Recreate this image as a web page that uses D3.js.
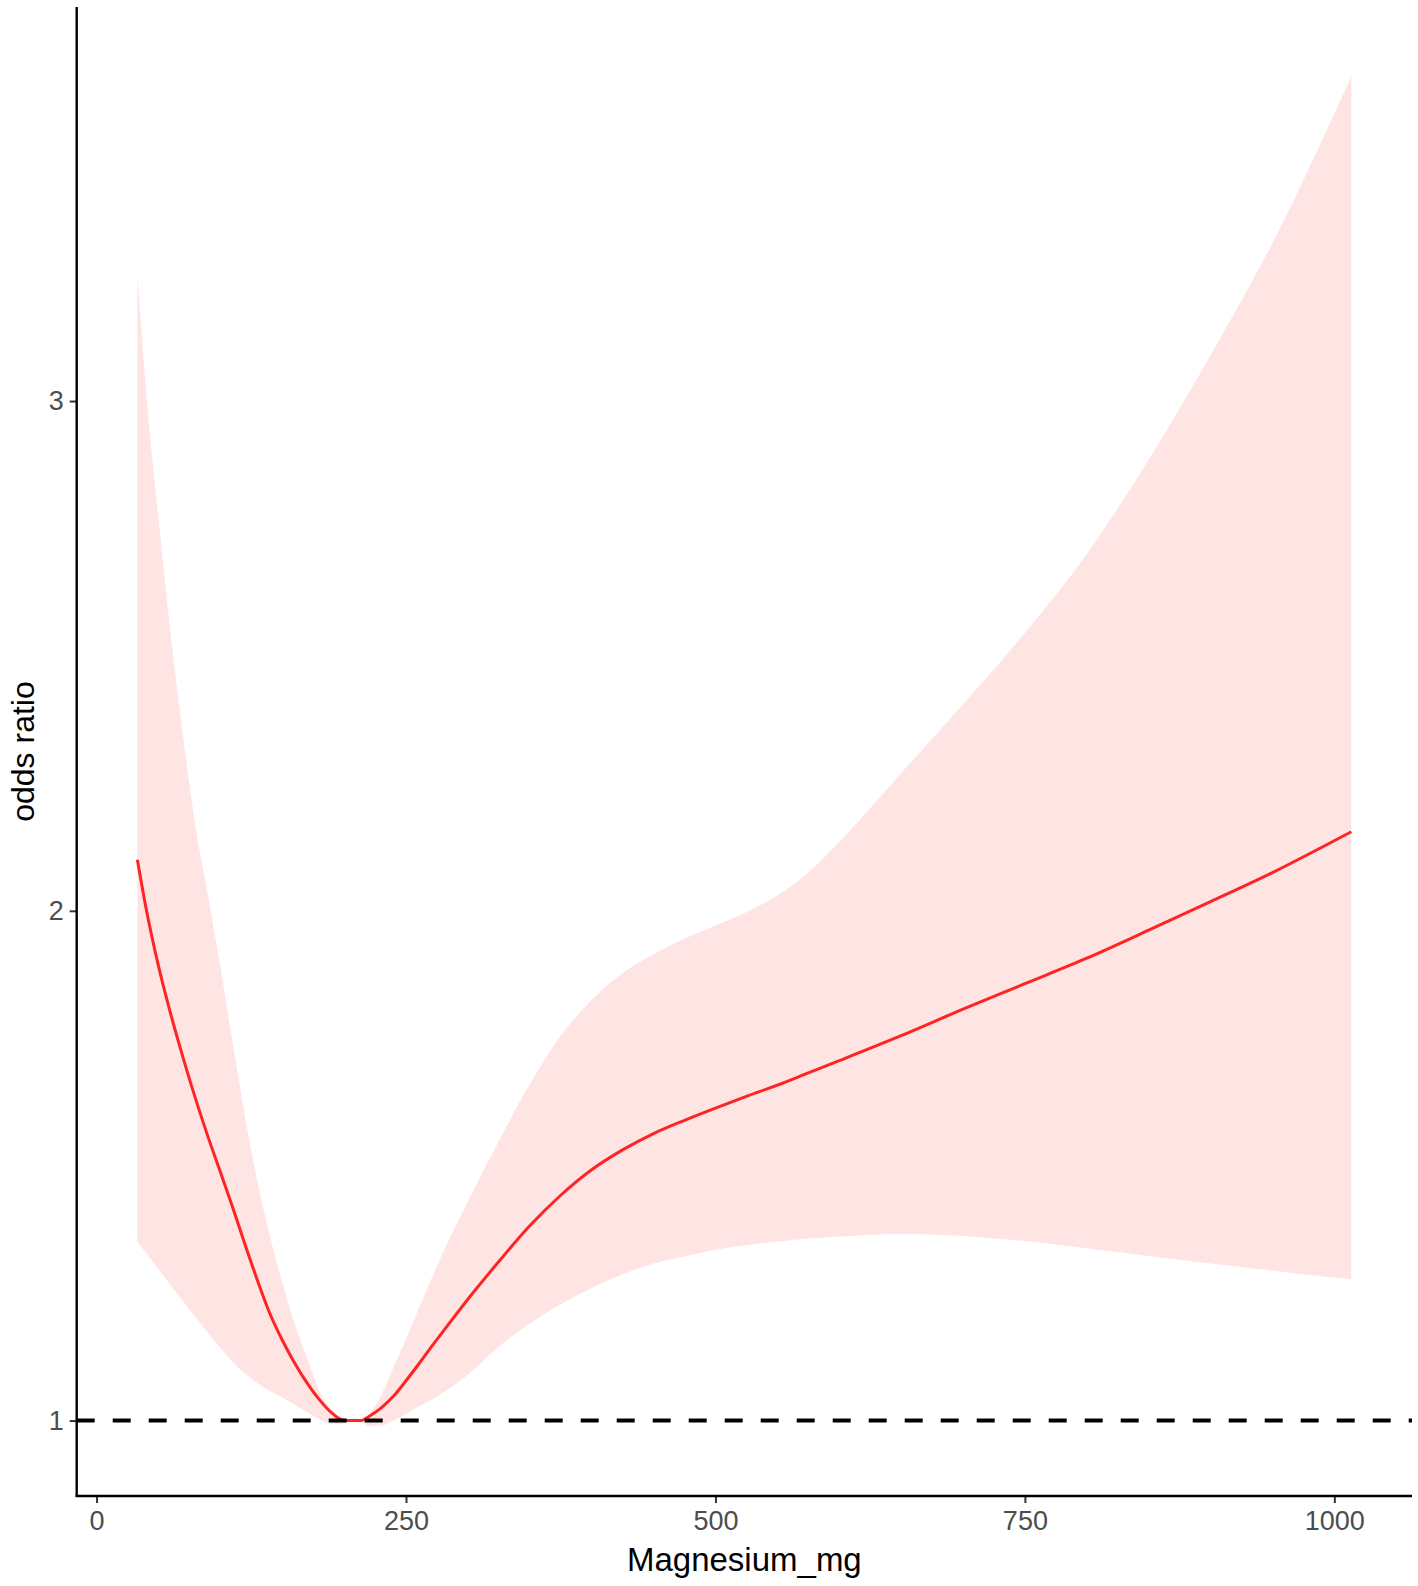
<!DOCTYPE html>
<html>
<head>
<meta charset="utf-8">
<script src="https://cdn.jsdelivr.net/npm/d3@7"></script>
<style>
  html, body { margin: 0; padding: 0; background: #ffffff; }
  svg { display: block; }
  text { font-family: "Liberation Sans", Arial, sans-serif; }
</style>
</head>
<body>
<svg id="chart" width="1418" height="1586"></svg>
<script>
// ---- data ----
const magnesium = [33, 40, 50, 60, 70, 80, 90, 100, 110, 120, 130, 140, 150, 160, 170, 180, 190, 200, 207, 214,
  220, 230, 240, 250, 260, 270, 280, 300, 325, 350, 375, 400, 425, 450, 475, 500, 525, 550, 575, 600,
  650, 700, 750, 800, 850, 900, 950, 1013.7];
const oddsRatio = [2.10, 2.005, 1.892, 1.797, 1.711, 1.631, 1.557, 1.488, 1.418, 1.345, 1.275, 1.21, 1.158, 1.113, 1.074, 1.041, 1.015, 1.0, 1.0, 1.0,
  1.008, 1.025, 1.048, 1.078, 1.11, 1.143, 1.175, 1.238, 1.312, 1.382, 1.442, 1.492, 1.531, 1.563, 1.589, 1.613, 1.636, 1.658, 1.682, 1.706,
  1.755, 1.807, 1.857, 1.907, 1.962, 2.018, 2.075, 2.155];
const upperCI = [3.25, 3.02, 2.77, 2.54, 2.34, 2.165, 2.03, 1.89, 1.74, 1.595, 1.468, 1.362, 1.272, 1.19, 1.123, 1.058, 1.02, 1.003, 1.0, 1.0,
  1.012, 1.05, 1.105, 1.16, 1.218, 1.275, 1.33, 1.43, 1.548, 1.66, 1.755, 1.825, 1.878, 1.915, 1.945, 1.971, 1.997, 2.03, 2.075, 2.135,
  2.27, 2.405, 2.545, 2.70, 2.885, 3.09, 3.31, 3.637];
const lowerCI = [1.351, 1.329, 1.297, 1.265, 1.234, 1.203, 1.172, 1.143, 1.115, 1.092, 1.073, 1.058, 1.045, 1.031, 1.017, 1.003, 0.993, 0.993, 1.0, 0.996,
  0.99, 0.99, 1.0, 1.013, 1.027, 1.04, 1.055, 1.09, 1.145, 1.19, 1.228, 1.26, 1.287, 1.308, 1.322, 1.335, 1.344, 1.351, 1.357, 1.361,
  1.366, 1.362, 1.352, 1.338, 1.323, 1.308, 1.294, 1.277];
const xTicks = [0, 250, 500, 750, 1000];
const yTicks = [1, 2, 3];
const refValue = 1;
const xTitle = "Magnesium_mg";
const yTitle = "odds ratio";

// ---- layout ----
const panel = { left: 76.7, right: 1412, top: 7, bottom: 1496 };

const svg = d3.select("#chart");

const xMin = d3.min(magnesium), xMax = d3.max(magnesium);
const xPad = (xMax - xMin) * 0.05;
const x = d3.scaleLinear().domain([xMin - xPad, xMax + xPad]).range([panel.left, panel.right]);
const y = d3.scaleLinear().domain([0.852, 3.773]).range([panel.bottom, panel.top]);

const rows = magnesium.map((m, i) => ({ m, or: oddsRatio[i], lo: lowerCI[i], hi: upperCI[i] }));

// ribbon
const area = d3.area()
  .x(d => x(d.m))
  .y0(d => y(d.lo))
  .y1(d => y(d.hi))
  .curve(d3.curveMonotoneX);
svg.append("path")
  .datum(rows)
  .attr("d", area)
  .attr("fill", "#FFE4E4");

// fitted line
const line = d3.line()
  .x(d => x(d.m))
  .y(d => y(d.or))
  .curve(d3.curveMonotoneX);
svg.append("path")
  .datum(rows)
  .attr("d", line)
  .attr("fill", "none")
  .attr("stroke", "#FF2424")
  .attr("stroke-width", 3);

// reference line
svg.append("line")
  .attr("x1", panel.left).attr("x2", panel.right)
  .attr("y1", y(refValue)).attr("y2", y(refValue))
  .attr("stroke", "#000")
  .attr("stroke-width", 4)
  .attr("stroke-dasharray", "18,18");

// axes
const xAxis = d3.axisBottom(x).tickValues(xTicks).tickSize(7).tickPadding(8).tickFormat(d3.format("d"));
const yAxis = d3.axisLeft(y).tickValues(yTicks).tickSize(7).tickPadding(6).tickFormat(d3.format("d"));

const gx = svg.append("g").attr("transform", `translate(0,${panel.bottom})`).call(xAxis);
const gy = svg.append("g").attr("transform", `translate(${panel.left},0)`).call(yAxis);

[gx, gy].forEach(g => {
  g.select(".domain").remove();
  g.selectAll(".tick line").attr("stroke", "#333333").attr("stroke-width", 2);
  g.selectAll(".tick text")
    .attr("fill", "#4D4D4D")
    .style("font-size", "27px")
    .style("font-family", "'Liberation Sans', Arial, sans-serif");
});
gx.selectAll(".tick text").attr("dy", "0.71em");

// axis lines
svg.append("line")
  .attr("x1", panel.left).attr("x2", panel.left)
  .attr("y1", panel.top).attr("y2", panel.bottom + 1)
  .attr("stroke", "#000").attr("stroke-width", 2.4);
svg.append("line")
  .attr("x1", panel.left - 1).attr("x2", panel.right)
  .attr("y1", panel.bottom).attr("y2", panel.bottom)
  .attr("stroke", "#000").attr("stroke-width", 2.4);

// titles
svg.append("text")
  .attr("x", (panel.left + panel.right) / 2)
  .attr("y", 1571)
  .attr("text-anchor", "middle")
  .attr("fill", "#000")
  .style("font-size", "33px")
  .text(xTitle);

svg.append("text")
  .attr("transform", `translate(34,${(panel.top + panel.bottom) / 2}) rotate(-90)`)
  .attr("text-anchor", "middle")
  .attr("fill", "#000")
  .style("font-size", "32px")
  .text(yTitle);
</script>
</body>
</html>
